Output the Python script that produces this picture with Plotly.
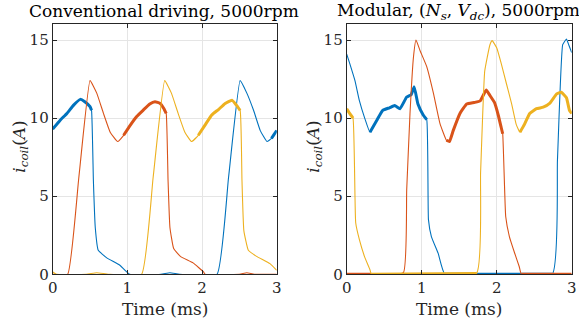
import plotly.graph_objects as go

# ---------------- data ----------------
# Left panel: conventional driving
conv_blue_t = [0, 0.10, 0.19, 0.28, 0.37, 0.43, 0.50, 0.52, 0.545, 0.57, 0.61, 0.72, 0.90, 1.03, 1.45, 1.57, 1.70, 2.20, 2.355, 2.51, 2.60, 2.69, 2.78, 2.87, 2.93, 3.0]
conv_blue_i = [9.3, 9.87, 10.3, 10.83, 11.2, 11.05, 10.73, 10.5, 6.0, 3.0, 1.54, 1.07, 0.58, 0, 0, 0.1, 0, 0, 6.2, 12.4, 11.6, 10.5, 9.2, 8.5, 8.7, 9.2]

conv_red_t = [0, 0.20, 0.35, 0.50, 0.59, 0.68, 0.77, 0.87, 0.95, 1.04, 1.125, 1.21, 1.30, 1.37, 1.44, 1.49, 1.52, 1.545, 1.57, 1.62, 1.71, 1.88, 2.02, 2.04, 2.50, 2.60, 2.70, 3.0]
conv_red_i = [0, 0, 6.2, 12.4, 11.6, 10.3, 9.1, 8.5, 8.9, 9.55, 10.1, 10.5, 10.9, 11.05, 10.94, 10.6, 10.3, 6.0, 3.0, 1.65, 1.15, 0.73, 0.15, 0, 0, 0.1, 0, 0]

conv_yel_t = [0, 0.05, 0.45, 0.59, 0.75, 1.19, 1.345, 1.50, 1.59, 1.68, 1.77, 1.86, 1.95, 2.04, 2.13, 2.22, 2.31, 2.40, 2.46, 2.51, 2.535, 2.56, 2.62, 2.73, 2.91, 3.0]
conv_yel_i = [0.15, 0, 0, 0.1, 0, 0, 6.2, 12.4, 11.6, 10.3, 9.1, 8.5, 8.9, 9.55, 10.2, 10.55, 10.94, 11.15, 10.83, 10.5, 6.0, 2.8, 1.54, 1.15, 0.68, 0.26]

# Right panel: modular (Ns, Vdc)
mod_blue_t = [0, 0.04, 0.11, 0.17, 0.24, 0.31, 0.40, 0.48, 0.57, 0.64, 0.71, 0.80, 0.86, 0.90, 0.95, 1.02, 1.067, 1.09, 1.13, 1.22, 1.31, 2.74, 2.81, 2.88, 2.93, 2.96, 3.0]
mod_blue_i = [14.1, 13.5, 12.4, 11.1, 10.0, 9.1, 9.85, 10.5, 10.66, 10.8, 10.6, 11.35, 11.5, 12.0, 10.9, 10.2, 9.9, 3.5, 2.4, 1.34, 0, 0, 7.3, 14.7, 15.06, 14.7, 14.2]

mod_red_t = [0, 0.33, 0.755, 0.80, 0.844, 0.89, 0.924, 0.98, 1.067, 1.156, 1.244, 1.33, 1.37, 1.42, 1.51, 1.60, 1.70, 1.78, 1.86, 1.91, 1.97, 2.02, 2.06, 2.08, 2.12, 2.17, 2.24, 2.30, 2.33, 3.0]
mod_red_i = [0, 0, 0.1, 5.4, 10.3, 13.9, 15.0, 14.3, 13.3, 11.6, 9.65, 8.58, 8.5, 9.2, 10.3, 10.9, 11.0, 11.1, 11.8, 11.45, 11.0, 10.2, 9.4, 9.0, 3.7, 2.4, 1.35, 0.5, 0, 0]

mod_yel_t = [0, 0.04, 0.084, 0.12, 0.17, 0.24, 0.31, 0.33, 1.73, 1.785, 1.84, 1.91, 1.94, 2.0, 2.06, 2.13, 2.2, 2.26, 2.31, 2.37, 2.44, 2.53, 2.62, 2.71, 2.80, 2.86, 2.93, 2.97, 3.0]
mod_yel_i = [10.6, 10.3, 10.0, 3.3, 2.2, 1.1, 0.3, 0, 0.05, 6.5, 13.0, 14.7, 14.96, 14.5, 13.5, 12.2, 10.9, 9.6, 9.1, 9.6, 10.3, 10.6, 10.7, 10.96, 11.55, 11.66, 11.3, 10.5, 10.3]

x_ticks = [0, 1, 2, 3]
y_ticks = [0, 5, 10, 15]
titles = ["Conventional driving, 5000rpm",
          "Modular, (<i>N<sub>s</sub></i>, <i>V<sub>dc</sub></i>), 5000rpm"]
xlabel = "Time (ms)"
ylabel = "<i>i<sub>coil</sub></i>(<i>A</i>)"

# ---------------- style ----------------
BLUE, RED, YEL = "#0072BD", "#D95319", "#EDB120"
FONT = "DejaVu Serif"
W, H = 579, 326

panels = [
    dict(series=[(conv_blue_t, conv_blue_i, BLUE, [(0, 0.52), (2.88, 3.0)]),
                 (conv_red_t, conv_red_i, RED, [(0.88, 1.52)]),
                 (conv_yel_t, conv_yel_i, YEL, [(1.88, 2.51)])],
         px=(52.7, 276.7)),
    dict(series=[(mod_blue_t, mod_blue_i, BLUE, [(0.31, 1.067), (1.31, 2.74)]),
                 (mod_red_t, mod_red_i, RED, [(0, 0.33), (1.33, 2.08), (2.33, 3.0)]),
                 (mod_yel_t, mod_yel_i, YEL, [(0, 0.084), (0.33, 1.73), (2.31, 3.0)])],
         px=(346.7, 571.7)),
]
top_px, bot_px = 24.4, 274.3

fig = go.Figure()
for k, p in enumerate(panels):
    xa = "x" if k == 0 else "x2"
    ya = "y" if k == 0 else "y2"
    for t, i, col, bands in p["series"]:
        fig.add_trace(go.Scatter(x=t, y=i, mode="lines",
                                 line=dict(color=col, width=1.1, shape="spline", smoothing=0.35),
                                 xaxis=xa, yaxis=ya, showlegend=False, hoverinfo="skip"))
        for a, b in bands:
            sx = [tt for tt in t if a <= tt <= b]
            sy = [ii for tt, ii in zip(t, i) if a <= tt <= b]
            fig.add_trace(go.Scatter(x=sx, y=sy, mode="lines",
                                     line=dict(color=col, width=3, shape="spline", smoothing=0.35),
                                     xaxis=xa, yaxis=ya, showlegend=False, hoverinfo="skip"))

axis_common = dict(showline=True, linecolor="#262626", linewidth=1, mirror="ticks",
                   ticks="inside", ticklen=4, tickcolor="#262626",
                   showgrid=True, gridcolor="#E5E5E5", gridwidth=1, zeroline=False,
                   tickfont=dict(family=FONT, size=15, color="#262626"))

layout = dict(width=W, height=H, margin=dict(l=0, r=0, t=0, b=0),
              paper_bgcolor="white", plot_bgcolor="white", showlegend=False)
ydom = [1 - bot_px / H, 1 - top_px / H]
for k, p in enumerate(panels):
    sfx = "" if k == 0 else "2"
    layout["xaxis" + sfx] = dict(axis_common, domain=[p["px"][0] / W, p["px"][1] / W],
                                 range=[0, 3], tickvals=x_ticks, anchor="y" + sfx,
                                 automargin=False)
    layout["yaxis" + sfx] = dict(axis_common, domain=ydom, range=[0, 16], tickvals=y_ticks,
                                 anchor="x" + sfx, automargin=False)
fig.update_layout(**layout)

ann = []
for k, p in enumerate(panels):
    cx = (p["px"][0] + p["px"][1]) / 2
    ann.append(dict(text=titles[k], x=(cx - 1) / W, y=1 - 11 / H, xref="paper", yref="paper",
                    xanchor="center", yanchor="middle", showarrow=False,
                    font=dict(family=FONT, size=17, color="black")))
    ann.append(dict(text=xlabel, x=cx / W, y=1 - 309 / H, xref="paper", yref="paper",
                    xanchor="center", yanchor="middle", showarrow=False,
                    font=dict(family=FONT, size=17, color="#262626")))
    ann.append(dict(text=ylabel, x=(p["px"][0] - 33) / W, y=1 - 147 / H, xref="paper", yref="paper",
                    xanchor="center", yanchor="middle", showarrow=False, textangle=-90,
                    font=dict(family=FONT, size=17, color="#262626")))
fig.update_layout(annotations=ann)

fig.write_html("out.html", config={"displayModeBar": False},
               post_script="document.body.style.margin='0';document.body.style.padding='0';")
